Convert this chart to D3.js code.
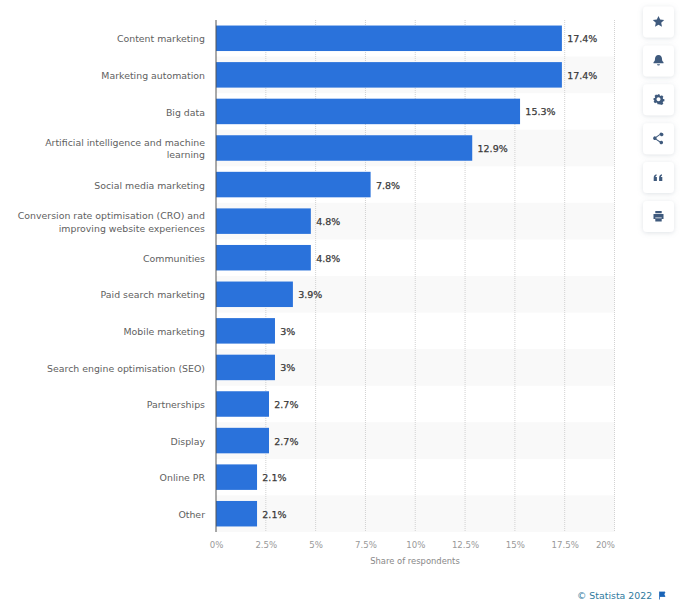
<!DOCTYPE html>
<html><head><meta charset="utf-8">
<script src="https://cdn.jsdelivr.net/npm/d3@7"></script>
<style>
html,body{margin:0;padding:0;background:#fff;}
svg{display:block;font-family:"DejaVu Sans",sans-serif;}
</style></head><body>
<svg id="c" width="686" height="608"></svg>
<script>
const categories = ["Content marketing","Marketing automation","Big data","Artificial intelligence and machine\nlearning","Social media marketing","Conversion rate optimisation (CRO) and\nimproving website experiences","Communities","Paid search marketing","Mobile marketing","Search engine optimisation (SEO)","Partnerships","Display","Online PR","Other"];
const values = [17.4,17.4,15.3,12.9,7.8,4.8,4.8,3.9,3,3,2.7,2.7,2.1,2.1];
const xTicks = [0,2.5,5,7.5,10,12.5,15,17.5,20];
const xTitle = "Share of respondents";
const credit = "© Statista 2022";

const svg = d3.select("#c");
const x = d3.scaleLinear().domain([0,20]).range([216,614.500]);
const y = d3.scaleBand().domain(categories).range([20,532]);
const barH = 25.5;
const barY = d => y(d) + (y.bandwidth()-barH)/2;

svg.append("g").selectAll("rect").data(categories.filter((d,i)=>i%2===1)).join("rect")
  .attr("x",x(0)).attr("y",d=>y(d)).attr("width",x(20)-x(0)).attr("height",y.bandwidth()).attr("fill","#f9f9f9");

svg.append("g").selectAll("line").data(xTicks.slice(1)).join("line")
  .attr("x1",d=>x(d)).attr("x2",d=>x(d)).attr("y1",20).attr("y2",532)
  .attr("stroke","#d2d2d2").attr("stroke-width",1).attr("stroke-dasharray","1,1");

svg.append("g").selectAll("rect").data(categories).join("rect")
  .attr("x",x(0)).attr("y",d=>barY(d)).attr("height",barH)
  .attr("width",(d,i)=>x(values[i])-x(0)-0.8).attr("fill","#2a72db");

svg.append("g").selectAll("text").data(categories).join("text")
  .attr("x",(d,i)=>x(values[i])+4.5).attr("y",d=>y(d)+y.bandwidth()/2+4)
  .attr("font-size",9.5).attr("fill","#3a3a3a").attr("stroke","#3a3a3a").attr("stroke-width",0.25)
  .text((d,i)=>values[i]+"%");

svg.append("line").attr("x1",x(0)).attr("x2",x(0)).attr("y1",20).attr("y2",532)
  .attr("stroke","#555").attr("stroke-width",1);

const lab = svg.append("g").attr("font-size",9.4).attr("fill","#5f5f5f").attr("text-anchor","end");
categories.forEach(c=>{
  const lines = c.split("\n");
  const cy = y(c)+y.bandwidth()/2;
  lines.forEach((l,i)=>{
    lab.append("text").attr("x",205).attr("y",cy+4.2+(i-(lines.length-1)/2)*12.5).text(l);
  });
});

const ax = svg.append("g").attr("transform","translate(0,532)")
  .call(d3.axisBottom(x).tickValues(xTicks).tickFormat(d=>d+"%").tickSize(0).tickPadding(10));
ax.select(".domain").remove();
ax.selectAll("text").attr("font-size",8.6).attr("font-family",'"DejaVu Sans",sans-serif').attr("fill","#999")
  .attr("text-anchor",d=>d===20?"end":"middle");
svg.append("text").attr("x",415).attr("y",563.500).attr("text-anchor","middle")
  .attr("font-size",8.4).attr("fill","#888").text(xTitle);

svg.append("text").attr("x",577).attr("y",599).attr("font-size",9.4).attr("fill","#2f7a9e").text(credit);
svg.append("path").attr("d","M659.500 591.500v8M660 592h5l-1 2.200 1 2.300h-5z").attr("fill","#1a64b8").attr("stroke","#1a64b8").attr("stroke-width",.8);

const defs = svg.append("defs");
const f = defs.append("filter").attr("id","s").attr("x","-40%").attr("y","-40%").attr("width","180%").attr("height","180%");
f.append("feDropShadow").attr("dx",0).attr("dy",1).attr("stdDeviation",2.5).attr("flood-color","#8a96a6").attr("flood-opacity",.28);
const icons = [
 "M0-5.500l1.700 3.600 4 .5-3 2.700.8 4L0 3.300-3.500 5.300l.8-4-3-2.700 4-.5z",
 "M0-5.500c2.400 0 3.500 1.800 3.500 3.900 0 1.900.6 2.600 1.500 3.500v1h-10v-1c.9-.9 1.500-1.600 1.500-3.500C-3.500-3.700-2.400-5.500 0-5.500zM-1.500 3.800h3a1.500 1.400 0 0 1-3 0z",
 "M-1-5h2l.3 1.300 1 .4 1.100-.7 1.500 1.500-.7 1.100.4 1 1.300.3v2l-1.300.3-.4 1 .7 1.100-1.500 1.500-1.100-.7-1 .4L1 5h-2l-.3-1.300-1-.4-1.100.7-1.500-1.500.7-1.100-.4-1L-5 1v-2l1.300-.3.4-1-.7-1.100 1.500-1.500 1.100.7 1-.4zM0-2a2 2 0 1 0 .01 0z",
 "M3.200-5.500a1.800 1.800 0 1 1-1.700 2.400L-2 -.8a1.800 1.800 0 0 1 0 1.600L1.500 3.100a1.800 1.800 0 1 1-.5 1L-2.600 1.500a1.800 1.800 0 1 1 0-3L1-3.900a1.800 1.800 0 0 1 2.200-1.600z",
 "M-4.800 3.800v-3c0-2 .9-3.100 2.800-3.600v1.400c-.7.300-1 .7-1.100 1.400h1.500v3.800zM.6 3.800v-3c0-2 .9-3.100 2.800-3.600v1.400c-.7.300-1 .7-1.100 1.400h1.500v3.800z",
 "M-3.200-5h6.400v2.300h-6.400zM-5-2h10v5h-1.800V1.400h-6.400V3H-5zM-3.200 2.200h6.400v3.300h-6.400z"
];
const btn = svg.append("g").selectAll("g").data(icons).join("g")
  .attr("transform",(d,i)=>`translate(658.500,${21.500+i*38.900})`);
btn.append("rect").attr("x",-15.500).attr("y",-15).attr("width",31).attr("height",31).attr("rx",4)
  .attr("fill","#fff").attr("filter","url(#s)");
btn.append("path").attr("d",d=>d).attr("fill","#3f5a7d").attr("fill-rule","evenodd");
</script>
</body></html>
